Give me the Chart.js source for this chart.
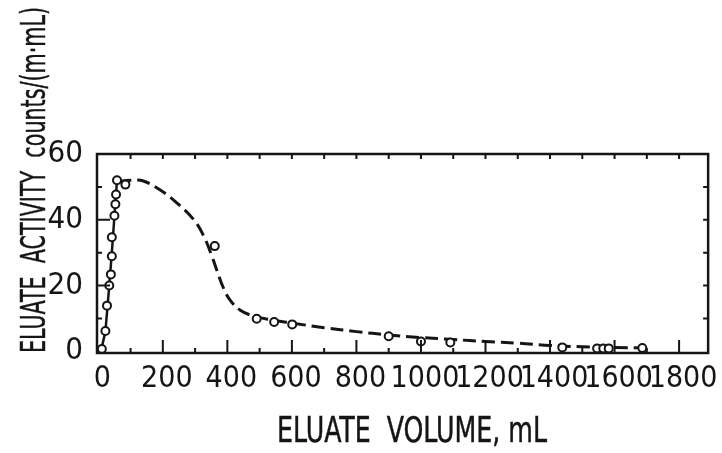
<!DOCTYPE html>
<html>
<head>
<meta charset="utf-8">
<script src="https://cdn.jsdelivr.net/npm/chart.js@4.4.1/dist/chart.umd.min.js"></script>
<style>
  html, body { margin: 0; padding: 0; background: #fff; }
  #wrap { width: 722px; height: 453px; }
</style>
</head>
<body>
<div id="wrap"><canvas id="elution" width="722" height="453"></canvas></div>
<script>
// measured points (eluate volume mL, activity counts/(m·mL))
const pointX = [11, 22, 27, 34, 39, 42, 42, 50, 53, 55, 58, 84, 361, 491, 545, 601, 900, 1000, 1091, 1438, 1546, 1565, 1582, 1686];
const pointY = [0.7, 6.2, 13.9, 20, 23.4, 28.9, 34.7, 41.2, 44.7, 47.7, 52, 50.7, 32, 9.9, 8.9, 8.2, 4.6, 3.0, 2.7, 1.2, 0.9, 0.9, 0.9, 1.0];

// solid rising line
const riseX = [8, 22, 34, 42, 50, 58];
const riseY = [0, 6, 20, 30, 41, 52];

// dashed fitted curve
const curveX = [62, 100, 140, 200, 245, 296, 327, 352, 368, 389, 409, 440, 482, 540, 600, 700, 800, 900, 1000, 1100, 1200, 1300, 1400, 1500, 1600, 1710];
const curveY = [51.6, 52, 51.8, 48.5, 45, 40, 35, 29, 24.5, 19, 15.5, 12.5, 10.7, 9.5, 8.6, 7.2, 6, 5, 4.2, 3.6, 3, 2.5, 1.8, 1.4, 1.2, 1.0];

const xTicks = [0, 200, 400, 600, 800, 1000, 1200, 1400, 1600, 1800];
const yTicks = [0, 20, 40, 60];

const xTitle = 'ELUATE  VOLUME, mL';
const yTitle = 'ELUATE  ACTIVITY  counts/(m\u00b7mL)';

const ink = '#151515';
const narrow = '"Liberation Sans Narrow", "DejaVu Sans Condensed", sans-serif';

function zip(xs, ys) {
  return xs.map((x, i) => ({ x, y: ys[i] }));
}

// box, inward ticks and axis titles
const frame = {
  id: 'frame',
  afterDraw(chart) {
    const { ctx, chartArea: a, scales: { x, y } } = chart;
    ctx.save();
    ctx.strokeStyle = ink;
    ctx.lineWidth = 2.5;
    ctx.strokeRect(a.left, a.top, a.right - a.left, a.bottom - a.top);

    ctx.lineWidth = 2;
    ctx.beginPath();
    for (let v = 100; v <= 1800; v += 100) {
      const px = x.getPixelForValue(v);
      ctx.moveTo(px, a.bottom);
      ctx.lineTo(px, a.bottom - (v % 200 === 0 ? 13 : 5));
      ctx.moveTo(px, a.top);
      ctx.lineTo(px, a.top + 5);
    }
    for (let v = 10; v < 60; v += 10) {
      const py = y.getPixelForValue(v);
      ctx.moveTo(a.left, py);
      ctx.lineTo(a.left + (v % 20 === 0 ? 13 : 5), py);
      ctx.moveTo(a.right, py);
      ctx.lineTo(a.right - 5, py);
    }
    ctx.stroke();

    ctx.fillStyle = ink;
    ctx.lineWidth = 0.45;
    ctx.textAlign = 'center';
    ctx.textBaseline = 'alphabetic';

    ctx.font = '35px ' + narrow;
    let w = ctx.measureText(xTitle).width;
    ctx.save();
    ctx.translate(412, 442);
    ctx.scale(270 / w, 1);
    ctx.fillText(xTitle, 0, 0);
    ctx.strokeText(xTitle, 0, 0);
    ctx.restore();

    ctx.font = '34px ' + narrow;
    w = ctx.measureText(yTitle).width;
    ctx.save();
    ctx.translate(45, 180);
    ctx.rotate(-Math.PI / 2);
    ctx.scale(346 / w, 1);
    ctx.fillText(yTitle, 0, 0);
    ctx.strokeText(yTitle, 0, 0);
    ctx.restore();

    ctx.restore();
  }
};

new Chart(document.getElementById('elution'), {
  type: 'scatter',
  data: {
    datasets: [
      {
        data: zip(pointX, pointY),
        showLine: false,
        pointRadius: 4,
        pointBorderWidth: 2,
        pointBorderColor: ink,
        pointBackgroundColor: '#fff'
      },
      {
        data: zip(riseX, riseY),
        showLine: true,
        pointRadius: 0,
        borderColor: ink,
        borderWidth: 2.5
      },
      {
        data: zip(curveX, curveY),
        showLine: true,
        pointRadius: 0,
        borderColor: ink,
        borderWidth: 3,
        borderDash: [13, 6],
        tension: 0.4
      }
    ]
  },
  options: {
    responsive: false,
    animation: false,
    devicePixelRatio: 1,
    layout: { padding: { left: 0, right: 12, top: 154, bottom: 0 } },
    plugins: { legend: { display: false }, tooltip: { enabled: false } },
    scales: {
      x: {
        type: 'linear',
        min: -4,
        max: 1890,
        afterBuildTicks: (s) => { s.ticks = xTicks.map((v) => ({ value: v })); },
        afterFit: (s) => { s.height = 100; },
        grid: { display: false, drawTicks: false },
        border: { display: false },
        ticks: {
          color: ink,
          padding: 8,
          labelOffset: 4,
          maxRotation: 0,
          autoSkip: false,
          font: { family: narrow, size: 30 },
          callback: (v) => String(v)
        }
      },
      y: {
        min: -0.5,
        max: 60,
        afterBuildTicks: (s) => { s.ticks = yTicks.map((v) => ({ value: v })); },
        afterFit: (s) => { s.width = 97; },
        grid: { display: false, drawTicks: false },
        border: { display: false },
        ticks: { color: ink, padding: 14, font: { family: narrow, size: 31 }, callback: (v) => String(v) }
      }
    }
  },
  plugins: [frame]
});
</script>
</body>
</html>
